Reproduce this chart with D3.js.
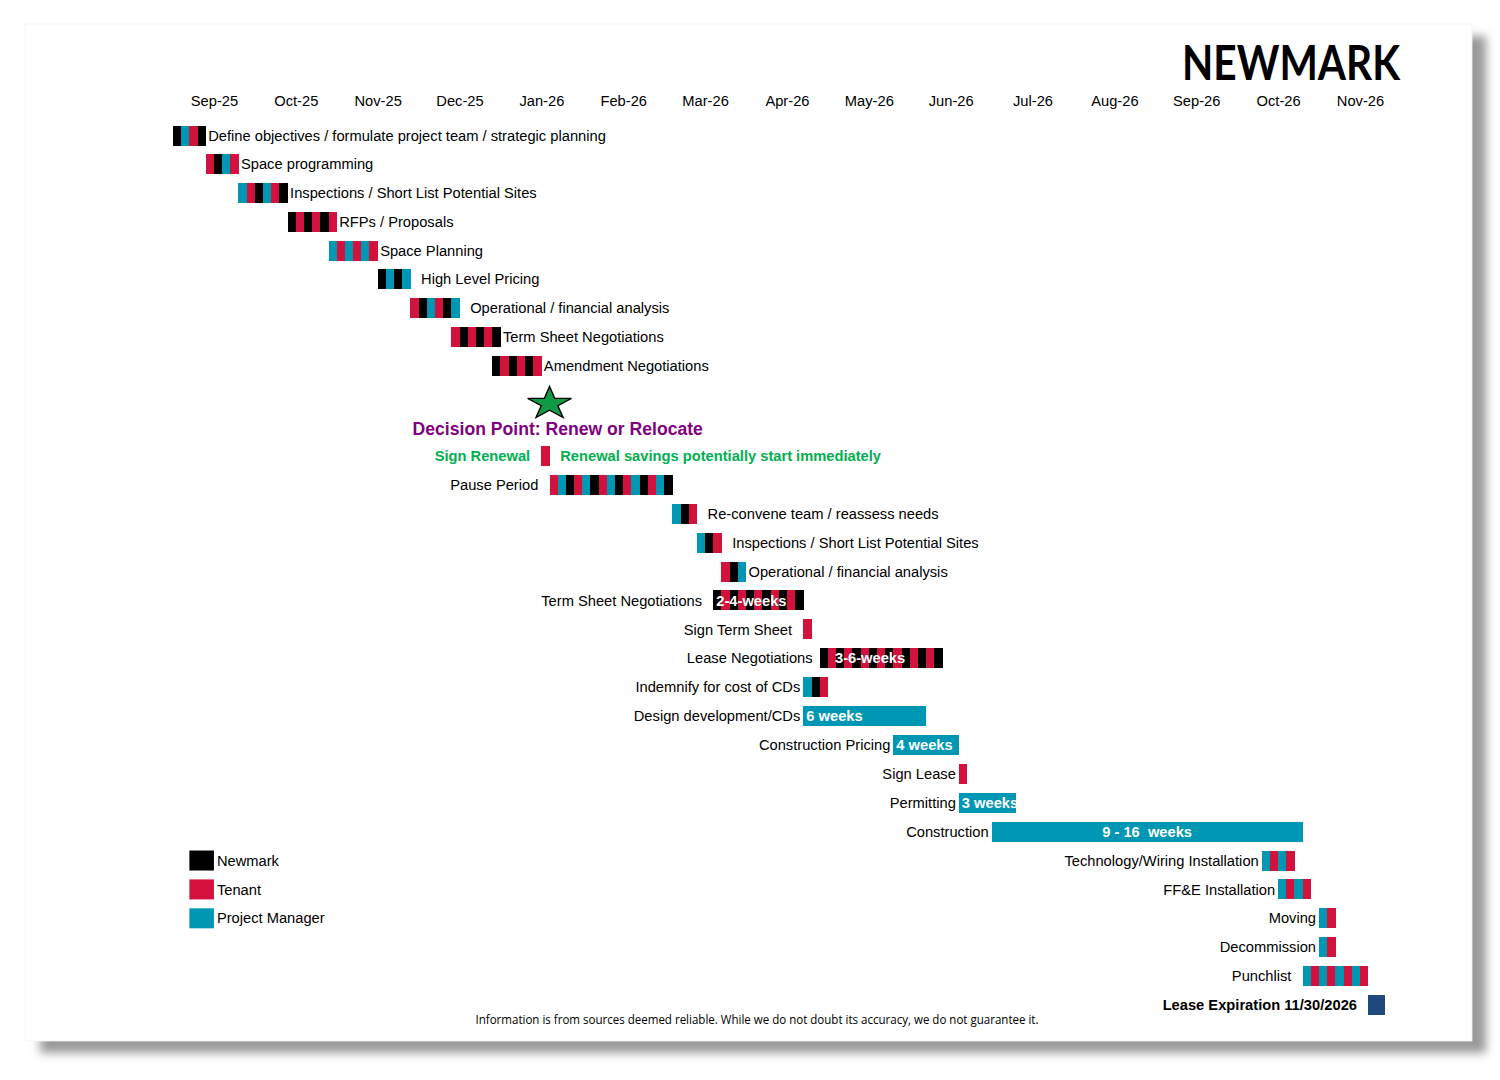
<!DOCTYPE html>
<html>
<head>
<meta charset="utf-8">
<script src="https://cdn.jsdelivr.net/npm/d3@7"></script>
<style>
  html, body { margin: 0; padding: 0; background: #ffffff; }
  svg { display: block; }
</style>
</head>
<body>
<svg id="chart" width="1500" height="1080" font-family="'Liberation Sans', Arial, sans-serif"></svg>
<script>
// ---------------- DATA ----------------
const months = ["Sep-25","Oct-25","Nov-25","Dec-25","Jan-26","Feb-26","Mar-26","Apr-26","May-26","Jun-26","Jul-26","Aug-26","Sep-26","Oct-26","Nov-26"];
const cellsPerMonth = 10;

// tasks (timeline in grid cells from start of Sep-25)
const taskLabels = [
  "Define objectives / formulate project team / strategic planning",
  "Space programming",
  "Inspections / Short List Potential Sites",
  "RFPs / Proposals",
  "Space Planning",
  "High Level Pricing",
  "Operational / financial analysis",
  "Term Sheet Negotiations",
  "Amendment Negotiations",
  "Pause Period",
  "Re-convene team / reassess needs",
  "Inspections / Short List Potential Sites",
  "Operational / financial analysis",
  "Term Sheet Negotiations",
  "Sign Term Sheet",
  "Lease Negotiations",
  "Indemnify for cost of CDs",
  "Design development/CDs",
  "Construction Pricing",
  "Sign Lease",
  "Permitting",
  "Construction",
  "Technology/Wiring Installation",
  "FF&E Installation",
  "Moving",
  "Decommission",
  "Punchlist",
  "Lease Expiration 11/30/2026"
];
const taskRows    = [0,1,2,3,4,5,6,7,8,12,13,14,15,16,17,18,19,20,21,22,23,24,25,26,27,28,29,30];
const taskStarts  = [0,4,8,14,19,25,29,34,39,46,61,64,67,66,77,79,77,77,88,96,96,100,133,135,140,140,138,146];
const taskLengths = [4,4,6,6,6,4,6,6,6,15,3,3,3,11,1,15,3,15,8,1,7,38,4,4,2,2,8,2];
// stripe colour cycle: K = Newmark, R = Tenant, T = Project Manager, N = expiration
const taskPatterns = ["KTRK","RKTR","TRKTRK","KR","TR","KT","RKT","RK","KR","RTK","TKR","TKR","RKT","KR","R","KR","TKR","T","T","R","T","T","TR","TR","TR","TR","TR","N"];
const taskLabelSide = ["right","right","right","right","right","right","right","right","right","left","right","right","right","left","left","left","left","left","left","left","left","left","left","left","left","left","left","left"];
const taskLabelGap  = [0,0,0,0,0,1,1,0,0,1,1,1,0,1,1,0.5,0,0,0,0,0,0,0,0,0,0,1,1];
const taskBarText   = ["","","","","","","","","","","","","","2-4-weeks","","3-6-weeks","","6 weeks","4 weeks","","3 weeks","9 - 16  weeks","","","","","",""];
const taskBarTextOffset = [0,0,0,0,0,0,0,0,0,0,0,0,0,0,0,1.5,0,0,0,0,0,"middle",0,0,0,0,0,0];

// decision point
const decisionCell = 46;
const decisionRow = 9;
const decisionTextRow = 10;
const decisionText = "Decision Point: Renew or Relocate";
const renewalRow = 11;
const renewalStart = 45;
const renewalLeftText = "Sign Renewal";
const renewalRightText = "Renewal savings potentially start immediately";

// legend
const legendLabels = ["Newmark","Tenant","Project Manager"];
const legendKeys = ["K","R","T"];
const legendRows = [25,26,27];

const footerText = "Information is from sources deemed reliable. While we do not doubt its accuracy, we do not guarantee it.";
const logoText = "NEWMARK";

// ---------------- STYLE ----------------
const colors = { K: "#000000", R: "#D2123C", T: "#0097B4", N: "#1F497D" };
const labelFont = 14.7;
const barH = 20;

// ---------------- CHART ----------------
const svg = d3.select("#chart");
const defs = svg.append("defs");
const f = defs.append("filter").attr("id","shadow").attr("x","-5%").attr("y","-5%").attr("width","110%").attr("height","110%");
f.append("feGaussianBlur").attr("stdDeviation", 5);

// page with shadow
svg.append("rect").attr("x", 40).attr("y", 36).attr("width", 1446).attr("height", 1017)
  .attr("fill", "#9a9a9a").attr("filter", "url(#shadow)");
svg.append("rect").attr("x", 25).attr("y", 24).attr("width", 1447).attr("height", 1017)
  .attr("fill", "#ffffff").attr("stroke", "#f2f2f2").attr("stroke-width", 0.8);

const totalCells = months.length * cellsPerMonth;
const x = d3.scaleLinear().domain([0, totalCells]).range([173, 173 + totalCells * 8.186]);
const y = d3.scaleLinear().domain([0, 8, 11, 30]).range([135.5, 365.5, 456, 1005]);

// month axis
const monthAxis = d3.axisTop(x)
  .tickValues(months.map((m, i) => i * cellsPerMonth + cellsPerMonth / 2))
  .tickFormat((d, i) => months[i])
  .tickSize(0).tickPadding(0);
const gAxis = svg.append("g").attr("transform", "translate(0,106)").call(monthAxis);
gAxis.select(".domain").remove();
gAxis.attr("font-family", null).attr("font-size", null);
gAxis.selectAll("text").attr("font-size", labelFont).attr("fill", "#000").attr("dy", 0);

// logo
svg.append("text").attr("x", 1182).attr("y", 80).text(logoText)
  .style("font-family", "Lato, sans-serif")
  .attr("font-size", 48).attr("font-weight", 700)
  .attr("textLength", 218).attr("lengthAdjust", "spacingAndGlyphs")
  .attr("fill", "#000");

// bars as stripes
function drawCells(g, start, len, pattern, row) {
  const cells = d3.range(len).map(i => ({ c: start + i, k: pattern[i % pattern.length] }));
  g.selectAll(null).data(cells).enter().append("rect")
    .attr("x", d => x(d.c)).attr("width", d => x(d.c + 1) - x(d.c) + 0.3)
    .attr("y", y(row) - barH / 2).attr("height", barH)
    .attr("fill", d => colors[d.k]).attr("shape-rendering", "crispEdges");
}

const gTasks = svg.append("g");
taskLabels.forEach((lab, i) => {
  const g = gTasks.append("g");
  const row = taskRows[i], s = taskStarts[i], n = taskLengths[i];
  drawCells(g, s, n, taskPatterns[i], row);
  const isLast = i === taskLabels.length - 1;
  const t = g.append("text").attr("y", y(row)).attr("dy", "0.35em")
    .attr("font-size", labelFont).attr("fill", "#000").text(lab);
  if (isLast) t.attr("font-weight", 700);
  if (taskLabelSide[i] === "right") {
    t.attr("x", x(s + n + taskLabelGap[i]) + 2.5).attr("text-anchor", "start");
  } else {
    t.attr("x", x(s - taskLabelGap[i]) - 3).attr("text-anchor", "end");
  }
  if (taskBarText[i]) {
    const off = taskBarTextOffset[i];
    const bt = g.append("text").attr("y", y(row)).attr("dy", "0.35em")
      .attr("font-size", labelFont).attr("font-weight", 700).attr("fill", "#fff")
      .text(taskBarText[i]).style("white-space", "pre");
    if (off === "middle") {
      bt.attr("x", (x(s) + x(s + n)) / 2).attr("text-anchor", "middle");
    } else {
      bt.attr("x", x(s + off) + 3).attr("text-anchor", "start");
    }
  }
});

// decision star
const R = 23, rIn = R * 0.382;
const starPts = d3.range(10).map(i => {
  const a = -Math.PI / 2 + i * Math.PI / 5;
  const r = i % 2 === 0 ? R : rIn;
  return [r * Math.cos(a), r * Math.sin(a) * 0.745];
});
svg.append("path")
  .attr("d", d3.line()(starPts) + "Z")
  .attr("transform", `translate(${x(decisionCell)},${y(decisionRow) + 8})`)
  .attr("fill", "#109A45").attr("stroke", "#000").attr("stroke-width", 1.4)
  .attr("stroke-linejoin", "miter");

svg.append("text").attr("x", x(decisionCell + 1)).attr("y", y(decisionTextRow) + 3.5)
  .attr("dy", "0.35em").attr("text-anchor", "middle")
  .attr("font-size", 17.6).attr("font-weight", 700).attr("fill", "#800080")
  .text(decisionText);

// renewal row
const gRen = svg.append("g");
drawCells(gRen, renewalStart, 1, "R", renewalRow);
gRen.append("text").attr("x", x(renewalStart - 1) - 3).attr("y", y(renewalRow)).attr("dy", "0.35em")
  .attr("text-anchor", "end").attr("font-size", labelFont).attr("font-weight", 700).attr("fill", "#00B050")
  .text(renewalLeftText);
gRen.append("text").attr("x", x(renewalStart + 2) + 2.5).attr("y", y(renewalRow)).attr("dy", "0.35em")
  .attr("text-anchor", "start").attr("font-size", labelFont).attr("font-weight", 700).attr("fill", "#00B050")
  .text(renewalRightText);

// legend
const gLeg = svg.append("g");
legendLabels.forEach((lab, i) => {
  gLeg.append("rect").attr("x", x(2)).attr("width", x(5) - x(2))
    .attr("y", y(legendRows[i]) - barH / 2).attr("height", barH)
    .attr("fill", colors[legendKeys[i]]);
  gLeg.append("text").attr("x", x(5) + 3).attr("y", y(legendRows[i])).attr("dy", "0.35em")
    .attr("font-size", labelFont).attr("fill", "#000").text(lab);
});

// footer
svg.append("text").attr("x", 757).attr("y", 1024).attr("text-anchor", "middle")
  .style("font-family", "'Open Sans', sans-serif").attr("font-size", 12.5)
  .attr("textLength", 563).attr("lengthAdjust", "spacingAndGlyphs")
  .attr("fill", "#000").text(footerText);
</script>
</body>
</html>
